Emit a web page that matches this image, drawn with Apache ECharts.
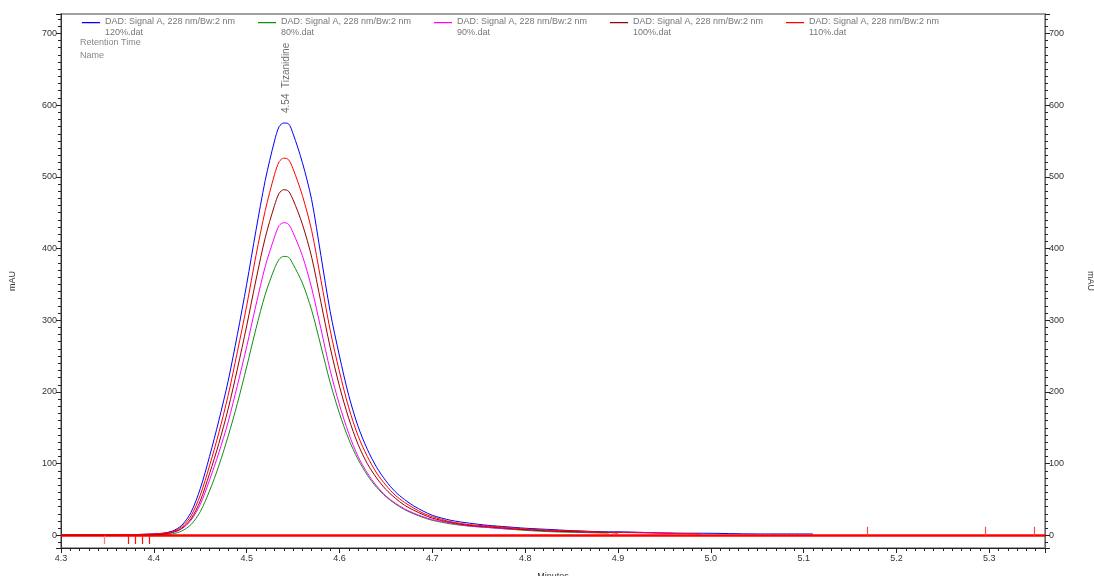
<!DOCTYPE html>
<html><head><meta charset="utf-8">
<script src="https://cdn.jsdelivr.net/npm/echarts@6/dist/echarts.min.js"></script>
<style>html,body{margin:0;padding:0;background:#fff}#c{width:1094px;height:576px}</style>
</head><body><div id="c"></div>
<script>
// Shared retention times (minutes)
const times = [4.30,4.35,4.37,4.40,4.41,4.42,4.43,4.44,4.45,4.46,4.47,4.48,4.49,4.50,4.51,4.52,4.53,4.535,4.54,4.545,
  4.55,4.56,4.57,4.58,4.59,4.60,4.61,4.62,4.63,4.64,4.65,4.66,4.67,4.68,4.69,4.70,4.72,4.74,4.76,4.78,4.80,4.83,4.86,4.89,4.90,4.96,4.99,5.05,5.11];
// Signal values (mAU); each series ends where its array ends
const v120 = [1,1,1,2,3,6,14,32,65,110,160,215,280,350,425,495,550,570,575,574,560,520,468,390,312,250,195,152,120,95,76,61,50,41,34,28,21,17,14,12,10,8,6,5,5,3,3,2,2];
const v80  = [0.5,0.5,0.5,1,1,2,6,15,33,62,97,138,184,235,288,336,372,385,389,388,378,352,314,264,213,170,134,106,84,67,54,44,36,30,25,21,16,13,11,9,7,5,4,3];
const v90  = [1,1,1,1,2,4,9,21,43,77,115,158,209,263,321,375,416,432,436,434,422,390,345,288,230,182,142,110,87,69,55,45,37,31,26,22,17,13,11,9,8,6,5,4,4,3];
const v100 = [0.5,0.5,1,1,2,4,10,23,48,86,128,176,232,292,356,415,460,477,482,480,468,434,388,325,262,208,163,127,100,80,64,52,42,35,29,24,18,14,12,10,8,6,5,4,3];
const v110 = [1,1,1,2,3,5,12,27,56,97,143,195,256,320,390,453,503,521,526,524,511,474,425,356,286,228,178,139,110,87,70,56,46,38,31,26,19,15,13,11,9,7,6,4,4,3,2];
const fileNames = ['120%.dat','80%.dat','90%.dat','100%.dat','110%.dat'];
const signalName = 'DAD: Signal A, 228 nm/Bw:2 nm';
const seriesValues = [v120, v80, v90, v100, v110];
const seriesColors = ['#0000ff','#109010','#ff00ff','#9a0000','#ff0000'];
// Integration event marks (minutes)
const eventsDown = [4.347, 4.372, 4.380, 4.388, 4.395];
const eventsUp = [5.168, 5.296, 5.348];
const peakTime = 4.543, peakHeight = 575, peakName = 'Tizanidine';
const xTicks = {min: 4.3, max: 5.36, interval: 0.1};
const yRange = {min: -17.6, max: 727};

const chart = echarts.init(document.getElementById('c'));
const font = 'Liberation Sans, Arial, sans-serif';

const series = seriesValues.map((vals, i) => ({
  name: fileNames[i],
  type: 'line',
  data: vals.map((v, k) => [times[k], v]),
  showSymbol: false,
  symbol: 'none',
  smooth: 0.3,
  lineStyle: {width: 1, color: seriesColors[i]},
  itemStyle: {color: seriesColors[i]},
  z: 2 + i
}));

// peak label on the 120% series
series[0].markPoint = {
  symbol: 'circle', symbolSize: 0, itemStyle: {color: 'rgba(0,0,0,0)'},
  data: [{coord: [peakTime, peakHeight]}],
  label: {show: true, formatter: peakTime.toFixed(2) + '  ' + peakName, rotate: 90,
    position: 'top', distance: 10, align: 'left', verticalAlign: 'middle',
    color: '#6e6e6e', fontSize: 10, fontFamily: font}
};

// baseline and events on the 110% series
series[4].markLine = {
  silent: true, symbol: 'none', animation: false,
  label: {show: false},
  lineStyle: {color: '#ff2020', width: 1, type: 'solid', opacity: 1},
  data: [
    {yAxis: 0, lineStyle: {color: '#ff0000', width: 2.5, type: 'solid'}},
    ...eventsDown.map((t, k) => [{coord: [t, 0], lineStyle: {color: k === 0 ? '#ff7a7a' : '#ff1010', width: 1.2, type: 'solid'}}, {coord: [t, -12]}]),
    ...eventsUp.map(t => [{coord: [t, 0], lineStyle: {color: '#ff4a4a', width: 1.2, type: 'solid'}}, {coord: [t, 12]}])
  ]
};

const axisLabelStyle = {color: '#333', fontSize: 9, fontFamily: font};

chart.setOption({
  animation: false,
  backgroundColor: '#fff',
  grid: {left: 61, right: 49, top: 14, bottom: 28, outerBoundsMode: 'none', containLabel: false,
    show: true, borderColor: '#808080', borderWidth: 1.5},
  legend: {
    left: 82, top: 16.5, padding: 0, orient: 'horizontal',
    icon: 'path://M0 0H18V1.2H0ZM0 11H18V11H0Z', itemWidth: 18, itemHeight: 11, itemGap: 3,
    selectedMode: false,
    data: fileNames.map((n, i) => ({name: n, itemStyle: {color: seriesColors[i]}})),
    formatter: n => signalName + '\n' + n,
    textStyle: {color: '#777', fontSize: 9, fontFamily: font, width: 150, lineHeight: 11}
  },
  graphic: [
    {type: 'text', left: 80, top: 38, style: {text: 'Retention Time', fill: '#888', fontSize: 9, fontFamily: font}},
    {type: 'text', left: 80, top: 51, style: {text: 'Name', fill: '#888', fontSize: 9, fontFamily: font}}
  ],
  xAxis: {
    type: 'value', min: xTicks.min, max: xTicks.max, interval: xTicks.interval,
    name: 'Minutes', nameLocation: 'middle', nameGap: 24,
    nameTextStyle: {color: '#333', fontSize: 9, fontFamily: font},
    axisLine: {onZero: false, lineStyle: {color: '#222', width: 1}},
    axisTick: {show: true, length: 5, lineStyle: {color: '#222'}},
    minorTick: {show: true, splitNumber: 10, length: 3, lineStyle: {color: '#222'}},
    splitLine: {show: false},
    axisLabel: Object.assign({margin: 6, showMaxLabel: false, formatter: v => v.toFixed(1)}, axisLabelStyle)
  },
  yAxis: [0, 1].map(i => ({
    type: 'value', min: yRange.min, max: yRange.max, splitNumber: 7,
    position: i === 0 ? 'left' : 'right',
    name: 'mAU', nameLocation: 'middle', nameGap: i === 0 ? 44 : 41,
    nameRotate: i === 0 ? 90 : -90,
    nameTextStyle: {color: '#333', fontSize: 9, fontFamily: font},
    axisLine: {show: true, onZero: false, lineStyle: {color: i === 0 ? '#333' : '#666', width: 1}},
    axisTick: {show: true, length: 5, lineStyle: {color: '#222'}},
    minorTick: {show: true, splitNumber: 10, length: 3, lineStyle: {color: '#222'}},
    splitLine: {show: false},
    axisLabel: Object.assign({margin: 4, showMinLabel: false, showMaxLabel: false,
      formatter: v => String(Math.round(v))}, axisLabelStyle)
  })),
  series: series
});
</script></body></html>
